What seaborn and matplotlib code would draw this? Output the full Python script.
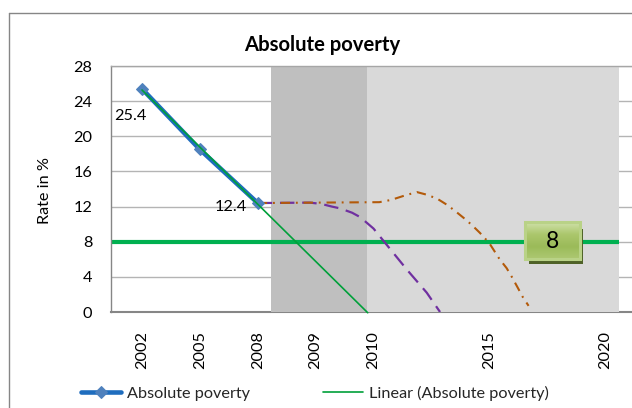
import numpy as np
import pandas as pd
import matplotlib
matplotlib.use("Agg")
import matplotlib.pyplot as plt
import matplotlib.transforms as mtransforms
from matplotlib.colors import LinearSegmentedColormap
from matplotlib.patches import Rectangle
from matplotlib.lines import Line2D
import seaborn as sns

# ---- data -------------------------------------------------------------
years = ["2002", "2005", "2008", "2009", "2010", "", "2015", "", "2020"]
observed_pos = [0, 1, 2]
observed_rate = [25.4, 18.5, 12.4]
target_rate = 8

# projected paths (category position, rate in %)
path_a_pos = [2.0, 2.9, 3.1, 3.28, 3.42, 3.63, 3.77, 4.0, 4.16, 4.58, 4.92, 5.15]
path_a_rate = [12.4, 12.45, 12.3, 12.0, 11.8, 11.3, 10.8, 9.5, 8.2, 4.8, 2.2, 0.0]
path_b_pos = [2.0, 3.0, 4.1, 4.3, 4.56, 4.75, 4.92, 5.1, 5.27, 5.41, 5.56,
              5.7, 5.84, 6.0, 6.18, 6.3, 6.39, 6.49, 6.58, 6.68]
path_b_rate = [12.4, 12.45, 12.5, 12.75, 13.3, 13.65, 13.35, 12.9, 12.2, 11.5,
               10.7, 9.9, 9.0, 7.85, 6.0, 5.0, 4.0, 2.8, 1.7, 0.7]

# forecast periods used for the trend line and the shaded phases
trend_forward = 1.9
phase_1 = (2.23, 3.89)
phase_2 = (3.89, 8.24)

observed = pd.DataFrame({"pos": observed_pos, "rate": observed_rate})
path_a = pd.DataFrame({"pos": path_a_pos, "rate": path_a_rate})
path_b = pd.DataFrame({"pos": path_b_pos, "rate": path_b_rate})

slope, intercept = np.polyfit(observed["pos"], observed["rate"], 1)
trend_x = np.array([observed["pos"].min(), observed["pos"].max() + trend_forward])
trend = pd.DataFrame({"pos": trend_x, "rate": slope * trend_x + intercept})

# ---- styling ----------------------------------------------------------
sns.set_theme(style="white")
plt.rcParams["font.family"] = ["Lato", "DejaVu Sans"]
FS = 11.7
GRID = "#b4b4b4"
AXIS = "#868686"

W, H = 632, 408
fig = plt.figure(figsize=(W / 100, H / 100), dpi=100)
ax = fig.add_axes([111 / W, 1 - 312 / H, (W - 111) / W, 246 / H])

# ---- marks ------------------------------------------------------------
ax.axvspan(*phase_1, color="#bfbfbf", lw=0, zorder=1)
ax.axvspan(*phase_2, color="#d9d9d9", lw=0, zorder=1)

ax.hlines(target_rate, -0.6, phase_2[1], color="#00b050", lw=3.0, zorder=2)

sns.lineplot(data=path_a, x="pos", y="rate", ax=ax, color="#7030a0", lw=1.6,
             linestyle=(0, (6.5, 3.5)), sort=False, zorder=3)
sns.lineplot(data=path_b, x="pos", y="rate", ax=ax, color="#b35a0a", lw=1.5,
             linestyle=(0, (4.5, 2.8, 0.9, 2.8)), sort=False, zorder=3)

sns.lineplot(data=observed, x="pos", y="rate", ax=ax, color="#1f6dbe", lw=3.3,
             marker="D", markersize=6.5, markerfacecolor="#4f81bd",
             markeredgecolor="#4f81bd", label="Absolute poverty", zorder=4)
sns.lineplot(data=trend, x="pos", y="rate", ax=ax, color="#00a03a", lw=1.2,
             label="Linear (Absolute poverty)", zorder=5, clip_on=False)

# value labels
ax.annotate(f"{observed_rate[0]}", (observed_pos[0], observed_rate[0]),
            xytext=(-8.5, -19.5), textcoords="offset points",
            ha="center", va="center", fontsize=FS, color="black", zorder=6)
ax.annotate(f"{observed_rate[2]}", (observed_pos[2], observed_rate[2]),
            xytext=(-7.5, -2.5), textcoords="offset points",
            ha="right", va="center", fontsize=FS, color="black", zorder=6)

# target callout box
box_x = 7.09
anchor = mtransforms.ScaledTranslation(box_x, target_rate + 0.1, ax.transData)
box_t = fig.dpi_scale_trans + anchor
bw, bh = 0.55, 0.37
ax.add_patch(Rectangle((-bw / 2 + 0.04, -bh / 2 - 0.05), bw - 0.01, bh - 0.02,
                       transform=box_t, fc="#4f6228", ec="none", zorder=7,
                       clip_on=False))
grad = LinearSegmentedColormap.from_list(
    "g", ["#adc872", "#9bbb59", "#abc66c", "#cfe1a8"])
ax.imshow(np.linspace(0, 1, 64).reshape(-1, 1), cmap=grad, aspect="auto",
          origin="lower", extent=(-bw / 2, bw / 2, -bh / 2, bh / 2),
          transform=box_t, zorder=8, clip_on=False)
ax.add_patch(Rectangle((-bw / 2, -bh / 2), bw, bh, transform=box_t,
                       fc="none", ec="#b9d287", lw=2.2, zorder=9, clip_on=False))
ax.text(0, -0.005, f"{target_rate}", transform=box_t, ha="center", va="center",
        fontsize=16.5, color="black", zorder=10)

# ---- axes -------------------------------------------------------------
ax.set_xlim(-0.536, 8.467)
ax.set_ylim(0, 28)
ax.set_xticks(range(len(years)))
ax.set_xticklabels(years, rotation=90, fontsize=FS)
ax.set_yticks(np.arange(0, 29, 4))
ax.tick_params(axis="y", length=0, pad=13.5, labelsize=FS, colors="black")
ax.tick_params(axis="x", length=0, pad=14, labelsize=FS, colors="black")
ax.set_xlabel("")
ax.set_ylabel("")
ax.set_axisbelow(True)
ax.grid(axis="y", color=GRID, lw=1.0)
ax.grid(axis="x", visible=False)
ax.set_facecolor("white")
for side in ["left", "bottom", "top"]:
    ax.spines[side].set_visible(True)
    ax.spines[side].set_color(AXIS)
    ax.spines[side].set_linewidth(1.0)
ax.spines["bottom"].set_linewidth(1.5)
ax.spines["bottom"].set_zorder(0.8)
ax.spines["top"].set_color("#a6a6a6")
ax.spines["top"].set_zorder(2.5)
ax.spines["right"].set_visible(False)

# ---- chart texts and frame ---------------------------------------------
fig.text(322 / W, 1 - 45 / H, "Absolute poverty", ha="center", va="center",
         fontsize=14.6, fontweight="bold", color="black")
fig.text(45 / W, 1 - 190 / H, "Rate in %", ha="center", va="center",
         rotation=90, fontsize=FS, color="black")

fig.add_artist(Line2D([9 / W, 9 / W], [0, 1 - 13 / H], transform=fig.transFigure,
                      color=AXIS, lw=1.0))
fig.add_artist(Line2D([9 / W, 1], [1 - 13 / H, 1 - 13 / H], transform=fig.transFigure,
                      color=AXIS, lw=1.0))

handles, labels = ax.get_legend_handles_labels()
ax.get_legend().remove()
fig.legend(handles, labels, loc="center left", bbox_to_anchor=(81 / W, 1 - 393 / H),
           bbox_transform=fig.transFigure, ncol=2, frameon=False, fontsize=FS,
           handlelength=2.46, handletextpad=0.37, columnspacing=4.5,
           borderpad=0, borderaxespad=0)

fig.savefig("out.png", dpi=100)
